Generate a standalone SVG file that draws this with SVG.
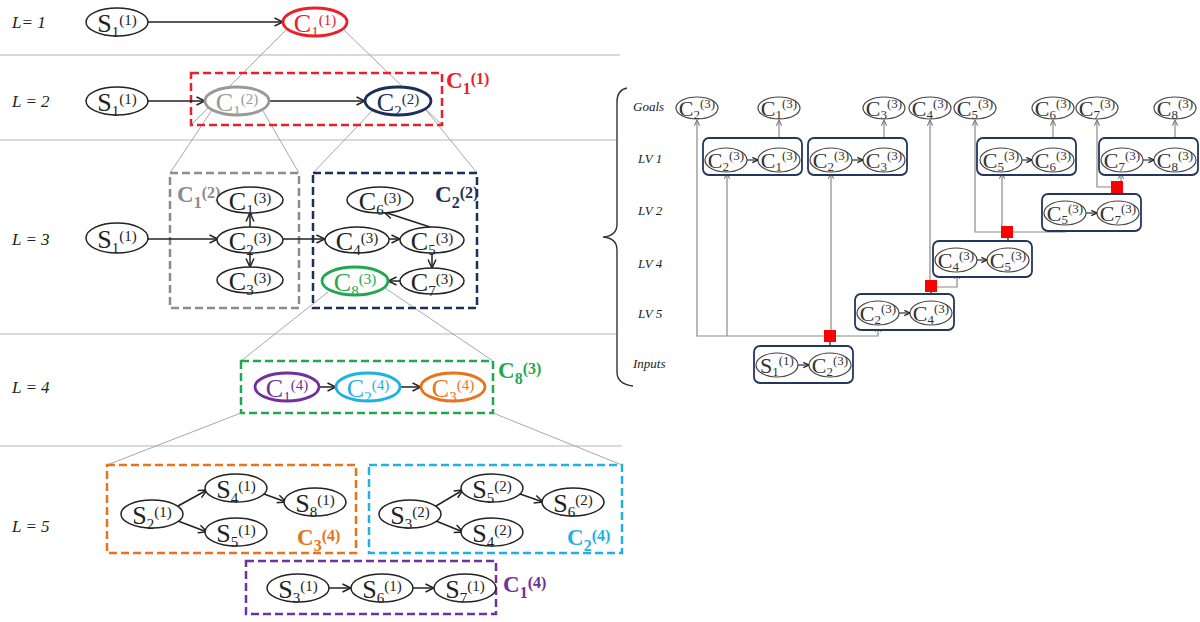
<svg xmlns="http://www.w3.org/2000/svg" width="1200" height="622" viewBox="0 0 1200 622">
<defs>
<style>
text{font-family:"Liberation Serif","Times New Roman",serif;fill:#222}
.lt{font-size:26px;text-anchor:middle}
.ls{font-size:15px}
.rt{font-size:22px;text-anchor:middle;fill:#333}
.rs{font-size:13px}
.lab{font-style:italic;font-size:17px}
.rlab{font-style:italic;font-size:13px}
.bl{font-size:23px;font-weight:bold}
.bs{font-size:16px;font-weight:bold}
.en{fill:#fff;stroke:#222;stroke-width:1.5}
.er{fill:#fff;stroke:#444;stroke-width:1.2}
.sep{stroke:#b5b5b5;stroke-width:1.2;fill:none}
.zl{stroke:#a8a8a8;stroke-width:1;fill:none}
.ar{stroke:#222;stroke-width:1.5;fill:none;marker-end:url(#ah)}
.box{fill:none;stroke-width:2.5;stroke-dasharray:8 4}
.nb{fill:#fff;stroke:#24365e;stroke-width:1.8}
.ga{stroke:#8a8a8a;stroke-width:1.2;fill:none;marker-end:url(#ag)}
.dl{stroke:#333;stroke-width:1.4;fill:none}
.ia{stroke:#333;stroke-width:1.2;fill:none;marker-end:url(#ai)}
.sq{fill:#f00}
</style>
<marker id="ah" viewBox="0 0 10 10" refX="9.5" refY="5" markerWidth="10" markerHeight="10" markerUnits="userSpaceOnUse" orient="auto"><path d="M1,1 L9.5,5 L1,9" fill="none" stroke="#222" stroke-width="1.5"/></marker>
<marker id="ag" viewBox="0 0 8 8" refX="7.5" refY="4" markerWidth="7" markerHeight="7" markerUnits="userSpaceOnUse" orient="auto"><path d="M1,1 L7.5,4 L1,7" fill="none" stroke="#777" stroke-width="1.2"/></marker>
<marker id="ai" viewBox="0 0 8 8" refX="7.5" refY="4" markerWidth="7" markerHeight="7" markerUnits="userSpaceOnUse" orient="auto"><path d="M1,1 L7.5,4 L1,7" fill="none" stroke="#222" stroke-width="1.4"/></marker>
</defs>

<g id="separators">
<line class="sep" x1="0" y1="55" x2="620" y2="55"/>
<line class="sep" x1="0" y1="140" x2="617" y2="140"/>
<line class="sep" x1="0" y1="334" x2="617" y2="334"/>
<line class="sep" x1="0" y1="446" x2="622" y2="446"/>
<path class="dl" d="M627,88 Q617,90 617,102 L617,224 Q617,236 603,237 Q617,238 617,250 L617,372 Q617,384 633,386" stroke="#555" stroke-width="1.3"/>
</g>

<g id="row-labels">
<text class="lab" x="12" y="28">L= 1</text>
<text class="lab" x="12" y="107">L = 2</text>
<text class="lab" x="12" y="245">L = 3</text>
<text class="lab" x="12" y="393">L = 4</text>
<text class="lab" x="12" y="532">L = 5</text>
<text class="rlab" x="633" y="111">Goals</text>
<text class="rlab" x="638" y="163">LV 1</text>
<text class="rlab" x="638" y="215">LV 2</text>
<text class="rlab" x="638" y="268">LV 4</text>
<text class="rlab" x="638" y="318">LV 5</text>
<text class="rlab" x="633" y="368">Inputs</text>
</g>

<g id="zoom-lines">
<line class="zl" x1="286" y1="30" x2="191" y2="125"/>
<line class="zl" x1="344" y1="30" x2="442" y2="125"/>
<line class="zl" x1="212" y1="110" x2="170" y2="173"/>
<line class="zl" x1="263" y1="111" x2="299" y2="173"/>
<line class="zl" x1="372" y1="111" x2="313" y2="173"/>
<line class="zl" x1="426" y1="110" x2="477" y2="173"/>
<line class="zl" x1="328" y1="292" x2="241" y2="361"/>
<line class="zl" x1="385" y1="288" x2="493" y2="361"/>
<line class="zl" x1="241" y1="413" x2="107" y2="465"/>
<line class="zl" x1="493" y1="413" x2="622" y2="465"/>
</g>

<g id="boxes">
<rect class="box" x="191" y="73" width="251" height="52" stroke="#e8202a"/>
<rect class="box" x="170" y="173" width="129" height="135" stroke="#8c8c8c"/>
<rect class="box" x="313" y="173" width="164" height="135" stroke="#1c2f58"/>
<rect class="box" x="241" y="361" width="252" height="52" stroke="#1fa84f"/>
<rect class="box" x="107" y="465" width="249" height="88" stroke="#e8731c"/>
<rect class="box" x="369" y="465" width="253" height="88" stroke="#1eb0e6"/>
<rect class="box" x="246" y="561" width="250" height="53" stroke="#7030a0"/>
<text class="bl" x="446" y="88" style="fill:#e8202a">C<tspan class="bs" dy="6">1</tspan><tspan class="bs" dy="-10">(1)</tspan></text>
<text class="bl" x="177" y="202" style="fill:#8c8c8c">C<tspan class="bs" dy="6">1</tspan><tspan class="bs" dy="-10">(2)</tspan></text>
<text class="bl" x="435" y="202" style="fill:#1c2f58">C<tspan class="bs" dy="6">2</tspan><tspan class="bs" dy="-10">(2)</tspan></text>
<text class="bl" x="498" y="378" style="fill:#1fa84f">C<tspan class="bs" dy="6">8</tspan><tspan class="bs" dy="-10">(3)</tspan></text>
<text class="bl" x="297" y="545" style="fill:#e8731c">C<tspan class="bs" dy="6">3</tspan><tspan class="bs" dy="-10">(4)</tspan></text>
<text class="bl" x="567" y="545" style="fill:#1eb0e6">C<tspan class="bs" dy="6">2</tspan><tspan class="bs" dy="-10">(4)</tspan></text>
<text class="bl" x="503" y="592" style="fill:#7030a0">C<tspan class="bs" dy="6">1</tspan><tspan class="bs" dy="-10">(4)</tspan></text>
</g>

<g id="connectors">
<line class="ar" x1="148" y1="22" x2="283" y2="22"/>
<line class="ar" x1="148" y1="101" x2="205" y2="101"/>
<line class="ar" x1="269" y1="101" x2="365" y2="101"/>
<line class="ar" x1="148" y1="239" x2="218" y2="239"/>
<line class="ar" x1="250" y1="227" x2="250" y2="213"/>
<line class="ar" x1="250" y1="253" x2="250" y2="267"/>
<line class="ar" x1="282" y1="239" x2="325" y2="239"/>
<line class="ar" x1="389" y1="239" x2="400" y2="239"/>
<line class="ar" x1="430" y1="227" x2="384" y2="212"/>
<line class="ar" x1="432" y1="253" x2="432" y2="268"/>
<line class="ar" x1="400" y1="281" x2="388" y2="281"/>
<line class="ar" x1="319" y1="387" x2="336" y2="387"/>
<line class="ar" x1="400" y1="387" x2="421" y2="387"/>
<line class="ar" x1="178" y1="506" x2="207" y2="490"/>
<line class="ar" x1="178" y1="521" x2="207" y2="532"/>
<line class="ar" x1="264" y1="494" x2="286" y2="502"/>
<line class="ar" x1="436" y1="506" x2="463" y2="490"/>
<line class="ar" x1="436" y1="521" x2="463" y2="532"/>
<line class="ar" x1="520" y1="494" x2="543" y2="502"/>
<line class="ar" x1="329" y1="588" x2="351" y2="588"/>
<line class="ar" x1="413" y1="588" x2="434" y2="588"/>
<polyline class="ga" points="830,336 697,336 697,120"/>
<line class="ga" x1="727" y1="336" x2="727" y2="173"/>
<line class="ga" x1="831" y1="330" x2="831" y2="173"/>
<polyline class="ga" points="836,336 878,336 878,326"/>
<line class="dl" x1="830" y1="342" x2="830" y2="353"/>
<line class="ga" x1="930" y1="281" x2="930" y2="120"/>
<polyline class="ga" points="937,287 957,287 957,273"/>
<line class="dl" x1="931" y1="292" x2="931" y2="301"/>
<polyline class="ga" points="1002,232 975,232 975,120"/>
<line class="ga" x1="1002" y1="226" x2="1002" y2="173"/>
<polyline class="ga" points="1013,232 1065,232 1065,226"/>
<line class="dl" x1="1008" y1="238" x2="1008" y2="248"/>
<polyline class="ga" points="1111,187 1097,187 1097,120"/>
<line class="ga" x1="1121" y1="181" x2="1121" y2="173"/>
<line class="dl" x1="1118" y1="193" x2="1118" y2="201"/>
<line class="ga" x1="779" y1="148" x2="779" y2="120"/>
<line class="ga" x1="884" y1="148" x2="884" y2="120"/>
<line class="ga" x1="1053" y1="148" x2="1053" y2="120"/>
<line class="ga" x1="1175" y1="148" x2="1175" y2="120"/>
</g>

<g id="L1-S1"><ellipse class="en" cx="117" cy="22" rx="31" ry="14"/><text class="lt" x="117" y="32">S<tspan class="ls" dy="5">1</tspan><tspan class="ls" dy="-12">(1)</tspan></text></g>
<g id="L1-C1"><ellipse class="en" cx="315" cy="22" rx="32" ry="14" style="stroke:#e8202a;stroke-width:2.8"/><text class="lt" x="315" y="32" style="fill:#e8202a">C<tspan class="ls" dy="5">1</tspan><tspan class="ls" dy="-12">(1)</tspan></text></g>
<g id="L2-S1"><ellipse class="en" cx="117" cy="101" rx="31" ry="14"/><text class="lt" x="117" y="111">S<tspan class="ls" dy="5">1</tspan><tspan class="ls" dy="-12">(1)</tspan></text></g>
<g id="L2-C1"><ellipse class="en" cx="237" cy="101" rx="32" ry="14" style="stroke:#999;stroke-width:2.8"/><text class="lt" x="237" y="111" style="fill:#999">C<tspan class="ls" dy="5">1</tspan><tspan class="ls" dy="-12">(2)</tspan></text></g>
<g id="L2-C2"><ellipse class="en" cx="398" cy="101" rx="33" ry="14" style="stroke:#1c2f58;stroke-width:2.8"/><text class="lt" x="398" y="111" style="fill:#1c2f58">C<tspan class="ls" dy="5">2</tspan><tspan class="ls" dy="-12">(2)</tspan></text></g>
<g id="L3-S1"><ellipse class="en" cx="117" cy="238" rx="31" ry="15"/><text class="lt" x="117" y="248">S<tspan class="ls" dy="5">1</tspan><tspan class="ls" dy="-12">(1)</tspan></text></g>
<g id="L3-C1"><ellipse class="en" cx="250" cy="200" rx="33" ry="13"/><text class="lt" x="250" y="210">C<tspan class="ls" dy="5">1</tspan><tspan class="ls" dy="-12">(3)</tspan></text></g>
<g id="L3-C2"><ellipse class="en" cx="250" cy="240" rx="33" ry="13"/><text class="lt" x="250" y="250">C<tspan class="ls" dy="5">2</tspan><tspan class="ls" dy="-12">(3)</tspan></text></g>
<g id="L3-C3"><ellipse class="en" cx="250" cy="280" rx="33" ry="13"/><text class="lt" x="250" y="290">C<tspan class="ls" dy="5">3</tspan><tspan class="ls" dy="-12">(3)</tspan></text></g>
<g id="L3-C6"><ellipse class="en" cx="380" cy="200" rx="33" ry="13"/><text class="lt" x="380" y="210">C<tspan class="ls" dy="5">6</tspan><tspan class="ls" dy="-12">(3)</tspan></text></g>
<g id="L3-C4"><ellipse class="en" cx="357" cy="240" rx="32" ry="13"/><text class="lt" x="357" y="250">C<tspan class="ls" dy="5">4</tspan><tspan class="ls" dy="-12">(3)</tspan></text></g>
<g id="L3-C5"><ellipse class="en" cx="432" cy="240" rx="32" ry="13"/><text class="lt" x="432" y="250">C<tspan class="ls" dy="5">5</tspan><tspan class="ls" dy="-12">(3)</tspan></text></g>
<g id="L3-C7"><ellipse class="en" cx="432" cy="281" rx="32" ry="13"/><text class="lt" x="432" y="291">C<tspan class="ls" dy="5">7</tspan><tspan class="ls" dy="-12">(3)</tspan></text></g>
<g id="L3-C8"><ellipse class="en" cx="355" cy="281" rx="33" ry="14" style="stroke:#1fa84f;stroke-width:2.8"/><text class="lt" x="355" y="291" style="fill:#1fa84f">C<tspan class="ls" dy="5">8</tspan><tspan class="ls" dy="-12">(3)</tspan></text></g>
<g id="L4-C1"><ellipse class="en" cx="287" cy="387" rx="32" ry="14" style="stroke:#7030a0;stroke-width:2.8"/><text class="lt" x="287" y="397" style="fill:#7030a0">C<tspan class="ls" dy="5">1</tspan><tspan class="ls" dy="-12">(4)</tspan></text></g>
<g id="L4-C2"><ellipse class="en" cx="368" cy="387" rx="32" ry="14" style="stroke:#1eb0e6;stroke-width:2.8"/><text class="lt" x="368" y="397" style="fill:#1eb0e6">C<tspan class="ls" dy="5">2</tspan><tspan class="ls" dy="-12">(4)</tspan></text></g>
<g id="L4-C3"><ellipse class="en" cx="453" cy="387" rx="32" ry="14" style="stroke:#e8731c;stroke-width:2.8"/><text class="lt" x="453" y="397" style="fill:#e8731c">C<tspan class="ls" dy="5">3</tspan><tspan class="ls" dy="-12">(4)</tspan></text></g>
<g id="L5-S2-1"><ellipse class="en" cx="152" cy="514" rx="31" ry="14"/><text class="lt" x="152" y="524">S<tspan class="ls" dy="5">2</tspan><tspan class="ls" dy="-12">(1)</tspan></text></g>
<g id="L5-S4-1"><ellipse class="en" cx="236" cy="488" rx="31" ry="14"/><text class="lt" x="236" y="498">S<tspan class="ls" dy="5">4</tspan><tspan class="ls" dy="-12">(1)</tspan></text></g>
<g id="L5-S5-1"><ellipse class="en" cx="236" cy="532" rx="31" ry="14"/><text class="lt" x="236" y="542">S<tspan class="ls" dy="5">5</tspan><tspan class="ls" dy="-12">(1)</tspan></text></g>
<g id="L5-S8-1"><ellipse class="en" cx="315" cy="502" rx="31" ry="14"/><text class="lt" x="315" y="512">S<tspan class="ls" dy="5">8</tspan><tspan class="ls" dy="-12">(1)</tspan></text></g>
<g id="L5-S3-2"><ellipse class="en" cx="410" cy="514" rx="31" ry="14"/><text class="lt" x="410" y="524">S<tspan class="ls" dy="5">3</tspan><tspan class="ls" dy="-12">(2)</tspan></text></g>
<g id="L5-S5-2"><ellipse class="en" cx="492" cy="488" rx="31" ry="14"/><text class="lt" x="492" y="498">S<tspan class="ls" dy="5">5</tspan><tspan class="ls" dy="-12">(2)</tspan></text></g>
<g id="L5-S4-2"><ellipse class="en" cx="492" cy="532" rx="31" ry="14"/><text class="lt" x="492" y="542">S<tspan class="ls" dy="5">4</tspan><tspan class="ls" dy="-12">(2)</tspan></text></g>
<g id="L5-S6-2"><ellipse class="en" cx="573" cy="502" rx="31" ry="14"/><text class="lt" x="573" y="512">S<tspan class="ls" dy="5">6</tspan><tspan class="ls" dy="-12">(2)</tspan></text></g>
<g id="L5-S3-1"><ellipse class="en" cx="298" cy="588" rx="31" ry="14"/><text class="lt" x="298" y="598">S<tspan class="ls" dy="5">3</tspan><tspan class="ls" dy="-12">(1)</tspan></text></g>
<g id="L5-S6-1"><ellipse class="en" cx="382" cy="588" rx="31" ry="14"/><text class="lt" x="382" y="598">S<tspan class="ls" dy="5">6</tspan><tspan class="ls" dy="-12">(1)</tspan></text></g>
<g id="L5-S7-1"><ellipse class="en" cx="465" cy="588" rx="31" ry="14"/><text class="lt" x="465" y="598">S<tspan class="ls" dy="5">7</tspan><tspan class="ls" dy="-12">(1)</tspan></text></g>

<g id="G-C2"><ellipse class="er" cx="697" cy="108" rx="21" ry="11"/><text class="rt" x="697" y="116">C<tspan class="rs" dy="3">2</tspan><tspan class="rs" dy="-11">(3)</tspan></text></g>
<g id="G-C1"><ellipse class="er" cx="779" cy="108" rx="21" ry="11"/><text class="rt" x="779" y="116">C<tspan class="rs" dy="3">1</tspan><tspan class="rs" dy="-11">(3)</tspan></text></g>
<g id="G-C3"><ellipse class="er" cx="884" cy="108" rx="21" ry="11"/><text class="rt" x="884" y="116">C<tspan class="rs" dy="3">3</tspan><tspan class="rs" dy="-11">(3)</tspan></text></g>
<g id="G-C4"><ellipse class="er" cx="930" cy="108" rx="21" ry="11"/><text class="rt" x="930" y="116">C<tspan class="rs" dy="3">4</tspan><tspan class="rs" dy="-11">(3)</tspan></text></g>
<g id="G-C5"><ellipse class="er" cx="975" cy="108" rx="21" ry="11"/><text class="rt" x="975" y="116">C<tspan class="rs" dy="3">5</tspan><tspan class="rs" dy="-11">(3)</tspan></text></g>
<g id="G-C6"><ellipse class="er" cx="1053" cy="108" rx="21" ry="11"/><text class="rt" x="1053" y="116">C<tspan class="rs" dy="3">6</tspan><tspan class="rs" dy="-11">(3)</tspan></text></g>
<g id="G-C7"><ellipse class="er" cx="1097" cy="108" rx="21" ry="11"/><text class="rt" x="1097" y="116">C<tspan class="rs" dy="3">7</tspan><tspan class="rs" dy="-11">(3)</tspan></text></g>
<g id="G-C8"><ellipse class="er" cx="1175" cy="108" rx="21" ry="11"/><text class="rt" x="1175" y="116">C<tspan class="rs" dy="3">8</tspan><tspan class="rs" dy="-11">(3)</tspan></text></g>

<g id="LV1-a"><rect class="nb" x="703" y="138" width="99" height="37" rx="6"/>
<ellipse class="er" cx="726" cy="160" rx="21" ry="12"/><text class="rt" x="726" y="168">C<tspan class="rs" dy="3">2</tspan><tspan class="rs" dy="-11">(3)</tspan></text>
<ellipse class="er" cx="779" cy="160" rx="21" ry="12"/><text class="rt" x="779" y="168">C<tspan class="rs" dy="3">1</tspan><tspan class="rs" dy="-11">(3)</tspan></text>
<line class="ia" x1="747" y1="160" x2="758" y2="160"/></g>
<g id="LV1-b"><rect class="nb" x="808" y="138" width="99" height="37" rx="6"/>
<ellipse class="er" cx="831" cy="160" rx="21" ry="12"/><text class="rt" x="831" y="168">C<tspan class="rs" dy="3">2</tspan><tspan class="rs" dy="-11">(3)</tspan></text>
<ellipse class="er" cx="884" cy="160" rx="21" ry="12"/><text class="rt" x="884" y="168">C<tspan class="rs" dy="3">3</tspan><tspan class="rs" dy="-11">(3)</tspan></text>
<line class="ia" x1="852" y1="160" x2="863" y2="160"/></g>
<g id="LV1-c"><rect class="nb" x="977" y="138" width="99" height="37" rx="6"/>
<ellipse class="er" cx="1001" cy="160" rx="21" ry="12"/><text class="rt" x="1001" y="168">C<tspan class="rs" dy="3">5</tspan><tspan class="rs" dy="-11">(3)</tspan></text>
<ellipse class="er" cx="1053" cy="160" rx="21" ry="12"/><text class="rt" x="1053" y="168">C<tspan class="rs" dy="3">6</tspan><tspan class="rs" dy="-11">(3)</tspan></text>
<line class="ia" x1="1022" y1="160" x2="1032" y2="160"/></g>
<g id="LV1-d"><rect class="nb" x="1099" y="138" width="99" height="37" rx="6"/>
<ellipse class="er" cx="1122" cy="160" rx="21" ry="12"/><text class="rt" x="1122" y="168">C<tspan class="rs" dy="3">7</tspan><tspan class="rs" dy="-11">(3)</tspan></text>
<ellipse class="er" cx="1175" cy="160" rx="21" ry="12"/><text class="rt" x="1175" y="168">C<tspan class="rs" dy="3">8</tspan><tspan class="rs" dy="-11">(3)</tspan></text>
<line class="ia" x1="1143" y1="160" x2="1154" y2="160"/></g>
<g id="LV2"><rect class="nb" x="1042" y="194" width="99" height="37" rx="6"/>
<ellipse class="er" cx="1065" cy="213" rx="21" ry="12"/><text class="rt" x="1065" y="221">C<tspan class="rs" dy="3">5</tspan><tspan class="rs" dy="-11">(3)</tspan></text>
<ellipse class="er" cx="1118" cy="213" rx="21" ry="12"/><text class="rt" x="1118" y="221">C<tspan class="rs" dy="3">7</tspan><tspan class="rs" dy="-11">(3)</tspan></text>
<line class="ia" x1="1086" y1="213" x2="1097" y2="213"/></g>
<g id="LV4"><rect class="nb" x="933" y="241" width="99" height="36" rx="6"/>
<ellipse class="er" cx="956" cy="260" rx="21" ry="12"/><text class="rt" x="956" y="268">C<tspan class="rs" dy="3">4</tspan><tspan class="rs" dy="-11">(3)</tspan></text>
<ellipse class="er" cx="1008" cy="260" rx="21" ry="12"/><text class="rt" x="1008" y="268">C<tspan class="rs" dy="3">5</tspan><tspan class="rs" dy="-11">(3)</tspan></text>
<line class="ia" x1="977" y1="260" x2="987" y2="260"/></g>
<g id="LV5"><rect class="nb" x="855" y="294" width="99" height="36" rx="6"/>
<ellipse class="er" cx="878" cy="313" rx="21" ry="12"/><text class="rt" x="878" y="321">C<tspan class="rs" dy="3">2</tspan><tspan class="rs" dy="-11">(3)</tspan></text>
<ellipse class="er" cx="931" cy="313" rx="21" ry="12"/><text class="rt" x="931" y="321">C<tspan class="rs" dy="3">4</tspan><tspan class="rs" dy="-11">(3)</tspan></text>
<line class="ia" x1="899" y1="313" x2="910" y2="313"/></g>
<g id="Inputs"><rect class="nb" x="754" y="346" width="99" height="37" rx="6"/>
<ellipse class="er" cx="777" cy="365" rx="21" ry="12"/><text class="rt" x="777" y="373">S<tspan class="rs" dy="3">1</tspan><tspan class="rs" dy="-11">(1)</tspan></text>
<ellipse class="er" cx="830" cy="365" rx="21" ry="12"/><text class="rt" x="830" y="373">C<tspan class="rs" dy="3">2</tspan><tspan class="rs" dy="-11">(3)</tspan></text>
<line class="ia" x1="798" y1="365" x2="809" y2="365"/></g>

<g id="junctions">
<rect class="sq" x="824" y="330" width="12" height="12"/>
<rect class="sq" x="925" y="280" width="12" height="12"/>
<rect class="sq" x="1001" y="226" width="12" height="12"/>
<rect class="sq" x="1111" y="181" width="12" height="12"/>
</g>
</svg>
